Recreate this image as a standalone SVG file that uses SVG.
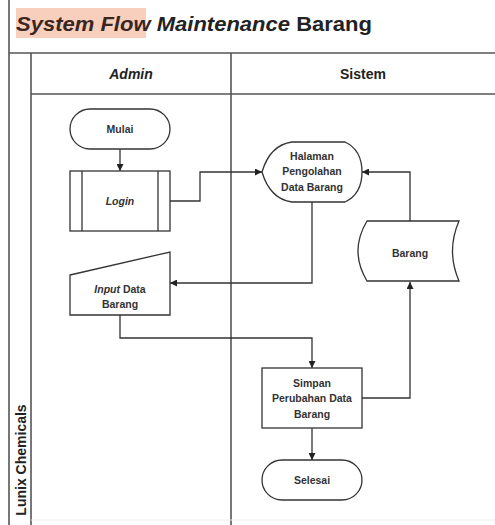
<svg xmlns="http://www.w3.org/2000/svg" width="495" height="525" viewBox="0 0 495 525">
<defs>
<style>
.frame{fill:none;stroke:#555;stroke-width:1.6}
.shape{fill:#fff;stroke:#333;stroke-width:1.3}
.conn{fill:none;stroke:#333;stroke-width:1.3}
.lbl{font-family:"Liberation Sans",Arial,sans-serif;font-size:10.5px;font-weight:bold;fill:#333;text-anchor:middle}
.hdr{font-family:"Liberation Sans",Arial,sans-serif;font-size:14px;font-weight:bold;fill:#222;text-anchor:middle}
</style>
<marker id="arr" viewBox="0 0 10 10" refX="10" refY="5" markerWidth="7" markerHeight="7" markerUnits="userSpaceOnUse" orient="auto">
<path d="M0,0 L10,5 L0,10 Z" fill="#222"/>
</marker>
</defs>
<rect width="495" height="525" fill="#fff"/>
<g id="title">
<rect x="16" y="8" width="130" height="30" fill="#f8cfbd"/>
<text x="16" y="31" font-family="'Liberation Sans',Arial,sans-serif" font-size="20" font-weight="bold" fill="#222" textLength="356" lengthAdjust="spacingAndGlyphs"><tspan font-style="italic" fill="#3a2620">System Flow</tspan> <tspan font-style="italic">Maintenance</tspan> Barang</text>
</g>
<g id="pool">
<line class="frame" x1="9" y1="0" x2="9" y2="525"/>
<line class="frame" x1="9" y1="53" x2="495" y2="53"/>
<line class="frame" x1="31" y1="53" x2="31" y2="525"/>
<line class="frame" x1="31" y1="94" x2="495" y2="94"/>
<line class="frame" x1="231" y1="53" x2="231" y2="525"/>
<line x1="31" y1="520" x2="495" y2="520" stroke="#eee" stroke-width="1"/>
<text class="hdr" x="131" y="79" font-style="italic">Admin</text>
<text class="hdr" x="363" y="79">Sistem</text>
<text class="hdr" transform="translate(26,460) rotate(-90)" font-size="15.5">Lunix Chemicals</text>
</g>
<g id="connectors">
<path class="conn" d="M120,149 V171" marker-end="url(#arr)"/>
<path class="conn" d="M170,201 H200 V172 H262" marker-end="url(#arr)"/>
<path class="conn" d="M312,202 V283 H170" marker-end="url(#arr)"/>
<path class="conn" d="M120,315 V338 H312 V368" marker-end="url(#arr)"/>
<path class="conn" d="M362,398 H410 V282" marker-end="url(#arr)"/>
<path class="conn" d="M410,221 V172 H362" marker-end="url(#arr)"/>
<path class="conn" d="M312,428 V460" marker-end="url(#arr)"/>
</g>
<g id="mulai">
<rect class="shape" x="70" y="109" width="100" height="40" rx="20"/>
<text class="lbl" x="120" y="133">Mulai</text>
</g>
<g id="login">
<rect class="shape" x="70" y="171" width="100" height="60"/>
<line class="conn" x1="82" y1="171" x2="82" y2="231"/>
<line class="conn" x1="158" y1="171" x2="158" y2="231"/>
<text class="lbl" x="120" y="205" font-style="italic">Login</text>
</g>
<g id="halaman">
<path class="shape" d="M262,172 Q270,145 292,142 L345,142 Q362,150 362,172 Q362,194 345,202 L292,202 Q270,199 262,172 Z"/>
<text class="lbl" x="312" y="160">Halaman</text>
<text class="lbl" x="312" y="175">Pengolahan</text>
<text class="lbl" x="312" y="191">Data Barang</text>
</g>
<g id="input">
<path class="shape" d="M70,275 L170,252 L170,315 L70,315 Z"/>
<text class="lbl" x="120" y="293"><tspan font-style="italic">Input</tspan> Data</text>
<text class="lbl" x="120" y="308">Barang</text>
</g>
<g id="barang">
<path class="shape" d="M367,221 L459,221 Q446,251 459,281 L367,281 Q349,251 367,221 Z"/>
<text class="lbl" x="410" y="257">Barang</text>
</g>
<g id="simpan">
<rect class="shape" x="262" y="368" width="100" height="60"/>
<text class="lbl" x="312" y="387">Simpan</text>
<text class="lbl" x="312" y="402">Perubahan Data</text>
<text class="lbl" x="312" y="418">Barang</text>
</g>
<g id="selesai">
<rect class="shape" x="262" y="460" width="100" height="40" rx="20"/>
<text class="lbl" x="312" y="484">Selesai</text>
</g>
</svg>
